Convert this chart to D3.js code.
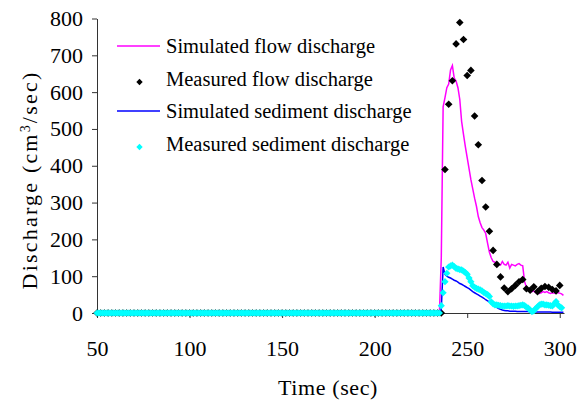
<!DOCTYPE html>
<html>
<head>
<meta charset="utf-8">
<script src="https://cdn.jsdelivr.net/npm/d3@7"></script>
<style>
  body { margin: 0; background: #fff; }
  svg { font-family: "Liberation Serif", "DejaVu Serif", "Times New Roman", serif; }
</style>
</head>
<body>
<div class="container"></div>
<script>
// ---- data ----
const xTicks = [50, 100, 150, 200, 250, 300];
const yTicks = [0, 100, 200, 300, 400, 500, 600, 700, 800];

const legendLabels = [
  "Simulated flow discharge",
  "Measured flow discharge",
  "Simulated sediment discharge",
  "Measured sediment discharge"
];

// simulated series: t = 50, then every second 235..302
const simTime = [50].concat(d3.range(235, 303));
const simFlow = [0,
  0, 150, 560, 585, 612, 622,
  660, 672, 638, 630, 612, 580, 520, 485, 452, 422,
  392, 362, 337, 312, 290, 262, 245, 232, 225, 216,
  190, 165, 150, 140, 138, 135, 132, 130, 140, 132,
  130, 138, 122, 132, 130, 128, 132, 134, 130, 128,
  85, 70, 62, 60, 58, 60, 55, 56, 53, 55,
  58, 56, 58, 55, 53, 55, 54, 56, 55, 54,
  52, 48];
const simSediment = [0,
  0, 10, 125, 105, 100, 97, 95, 92, 89, 87,
  84, 80, 78, 75, 72, 69, 66, 62, 58, 55,
  52, 49, 46, 43, 40, 36, 33, 30, 26, 22,
  18, 15, 12, 10, 8, 7, 6, 6, 5, 5,
  5, 5, 4, 4, 4, 4, 4, 4, 4, 3,
  3, 3, 3, 3, 3, 3, 3, 3, 3, 3,
  3, 2, 2, 2, 2, 2, 2, 2];

// measured flow: every 2 s, 50..300
const measFlowTime = d3.range(50, 301, 2);
const measFlow = [
  0,0,0,0,0,0,0,0,0,0,0,0,0,0,0,0,0,0,0,0,0,0,0,0,0,0,0,0,0,0,0,
  0,0,0,0,0,0,0,0,0,0,0,0,0,0,0,0,0,0,0,0,0,0,0,0,0,0,0,0,0,0,0,
  0,0,0,0,0,0,0,0,0,0,0,0,0,0,0,0,0,0,0,0,0,0,0,0,0,0,0,0,0,0,0,0,
  390, 567, 631, 731, 789, 743, 645, 659, 535, 457,
  360, 288, 222, 170, 132, 98, 68, 58, 66, 75,
  85, 91, 66, 62, 71, 58, 67, 72, 70, 64,
  60, 75];

// measured sediment: every second, 50..301
const measSedTime = d3.range(50, 302);
const measSediment = [
  0,0,0,0,0,0,0,0,0,0,0,0,0,0,0,0,0,0,0,0,0,0,0,0,0,0,0,0,0,0,0,
  0,0,0,0,0,0,0,0,0,0,0,0,0,0,0,0,0,0,0,0,0,0,0,0,0,0,0,0,0,0,0,
  0,0,0,0,0,0,0,0,0,0,0,0,0,0,0,0,0,0,0,0,0,0,0,0,0,0,0,0,0,0,0,
  0,0,0,0,0,0,0,0,0,0,0,0,0,0,0,0,0,0,0,0,0,0,0,0,0,0,0,0,0,0,0,
  0,0,0,0,0,0,0,0,0,0,0,0,0,0,0,0,0,0,0,0,0,0,0,0,0,0,0,0,0,0,0,
  0,0,0,0,0,0,0,0,0,0,0,0,0,0,0,0,0,0,0,0,0,0,0,0,0,0,0,0,0,0,0,
  20, 55, 85, 108, 125, 128, 130, 126, 121, 120,
  118, 117, 114, 110, 105, 95, 85, 74, 70, 67,
  65, 63, 60, 56, 53, 50, 45, 30, 25, 22,
  22, 21, 20, 19, 19, 19, 20, 19, 19, 18,
  19, 19, 20, 21, 22, 20, 16, 13, 8, 4,
  6, 12, 17, 22, 24, 24, 22, 22, 21, 20,
  19, 25, 31, 22, 17, 14];

const colFlowSim = "#ff00ff", colSedSim = "#0000ff", colSedMeas = "#00ffff";
const serif = "'Liberation Serif', 'DejaVu Serif', serif";

// ---- layout ----
const W = 578, H = 403;
const x = d3.scaleLinear().domain([50, 302.3]).range([97, 564]);
const y = d3.scaleLinear().domain([0, 800]).range([313, 18.5]);

const svg = d3.select(".container").append("svg")
  .attr("width", W).attr("height", H);

function diamond(r) {
  return `M0,${-r}L${r},0L0,${r}L${-r},0Z`;
}

const line = d3.line().x(d => x(d[0])).y(d => y(d[1]));

// axes
const yAxis = svg.append("g").attr("transform", `translate(${x(50)},0)`)
  .call(d3.axisLeft(y).tickValues(yTicks).tickSize(5).tickPadding(9).tickSizeOuter(0));
const xAxis = svg.append("g").attr("transform", `translate(0,${y(0)})`)
  .call(d3.axisBottom(x).tickValues(xTicks).tickSize(5).tickPadding(22).tickSizeOuter(0));
[yAxis, xAxis].forEach(g => {
  g.attr("font-family", serif);
  g.select(".domain").attr("stroke", "#333");
  g.selectAll(".tick line").attr("stroke", "#333");
  g.selectAll("text").attr("fill", "#000").style("font-size", "22px")
    .style("font-family", serif);
});

// series (Excel order)
svg.append("path").datum(d3.zip(simTime, simFlow))
  .attr("d", line).attr("fill", "none").attr("stroke", colFlowSim).attr("stroke-width", 1.5);

svg.append("g").selectAll("path").data(d3.zip(measFlowTime, measFlow)).join("path")
  .attr("d", diamond(3.8)).attr("fill", "#000")
  .attr("transform", d => `translate(${x(d[0])},${y(d[1])})`);

svg.append("path").datum(d3.zip(simTime, simSediment))
  .attr("d", line).attr("fill", "none").attr("stroke", colSedSim).attr("stroke-width", 1.5);

svg.append("g").selectAll("path").data(d3.zip(measSedTime, measSediment)).join("path")
  .attr("d", diamond(3.6)).attr("fill", colSedMeas)
  .attr("transform", d => `translate(${x(d[0])},${y(d[1])})`);

// axis titles
svg.append("text").attr("x", 328).attr("y", 395).attr("text-anchor", "middle")
  .style("font-size", "22px").style("letter-spacing", "0.6px").text("Time (sec)");

const yt = svg.append("text").attr("transform", "translate(37,180) rotate(-90)")
  .attr("text-anchor", "middle").style("font-size", "22px").style("letter-spacing", "2.2px");
yt.append("tspan").text("Discharge (cm");
yt.append("tspan").attr("baseline-shift", "super").style("font-size", "14px").text("3");
yt.append("tspan").text("/sec)");

// legend
const lg = svg.append("g");
const rowBase = [53, 85.5, 118, 150.5];
legendLabels.forEach((lab, i) => {
  const by = rowBase[i];
  if (i === 0 || i === 2) {
    lg.append("line").attr("x1", 117).attr("x2", 160)
      .attr("y1", by - 7).attr("y2", by - 7)
      .attr("stroke", i === 0 ? colFlowSim : colSedSim).attr("stroke-width", 1.5);
  } else {
    lg.append("path").attr("d", diamond(3.2))
      .attr("fill", i === 1 ? "#000" : colSedMeas)
      .attr("transform", `translate(139.5,${by - 3.5})`);
  }
  lg.append("text").attr("x", 166).attr("y", by).style("font-size", "20.5px").text(lab);
});
</script>
</body>
</html>
